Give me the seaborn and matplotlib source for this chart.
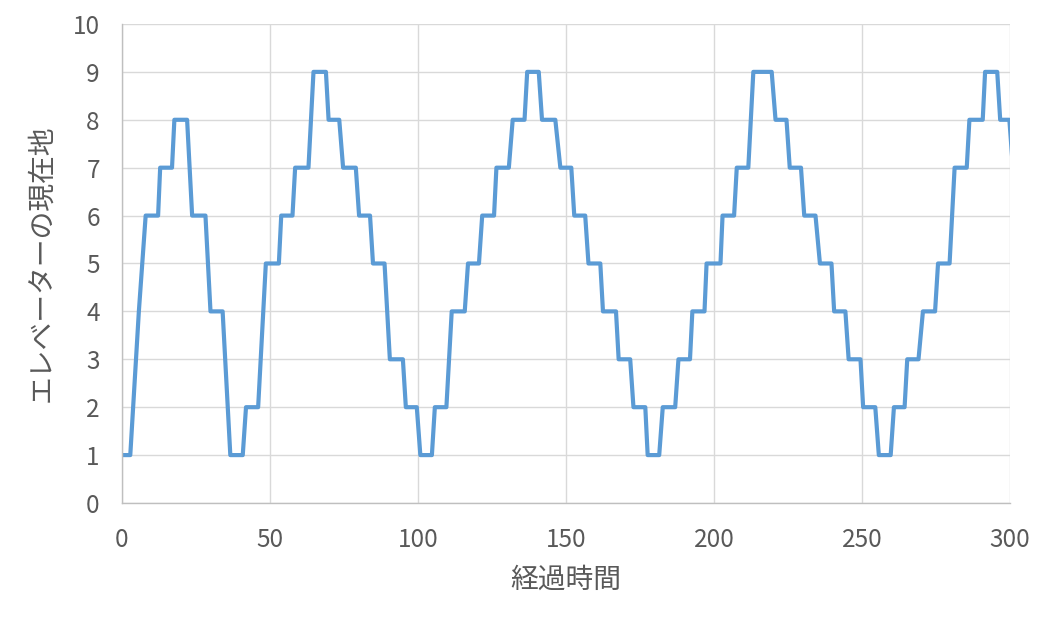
import numpy as np
import pandas as pd
import matplotlib
matplotlib.use("Agg")
import matplotlib.pyplot as plt
import seaborn as sns

# 経過時間 (頂点ごと) と エレベーターの現在地
time = [0, 2.8, 5.7, 8.0, 12.2, 12.9, 16.9, 17.7, 22.0, 23.7, 28.2, 29.9, 34.0, 36.6,
        40.8, 41.9, 46.0, 48.6, 53.0, 53.8, 57.6, 58.5, 63.0, 64.7, 68.9, 69.8, 73.4,
        74.7, 79.0, 80.1, 83.8, 84.8, 88.7, 90.5, 94.9, 95.9, 99.6, 100.8, 104.7,
        105.7, 109.6, 111.4, 115.8, 116.9, 120.6, 121.7, 125.7, 126.5, 130.7, 132.0,
        136.0, 136.9, 140.8, 141.9, 146.4, 148.1, 151.8, 152.8, 156.5, 157.6, 161.6,
        162.5, 166.9, 167.8, 171.7, 172.8, 176.8, 177.6, 181.5, 182.7, 186.9, 188.0,
        191.9, 192.7, 196.8, 197.5, 202.2, 202.9, 206.8, 207.7, 211.6, 213.3, 219.5,
        220.8, 224.5, 225.6, 229.4, 230.5, 234.3, 235.8, 239.7, 240.6, 244.4, 245.5,
        249.5, 250.4, 254.5, 255.7, 259.7, 260.8, 264.4, 265.3, 269.1, 270.6, 274.7,
        275.7, 279.6, 281.3, 285.4, 286.3, 290.8, 291.6, 295.7, 296.7, 299.8, 301.0]
floor = [1, 1, 4, 6, 6, 7, 7, 8, 8, 6, 6, 4, 4, 1,
         1, 2, 2, 5, 5, 6, 6, 7, 7, 9, 9, 8, 8,
         7, 7, 6, 6, 5, 5, 3, 3, 2, 2, 1, 1,
         2, 2, 4, 4, 5, 5, 6, 6, 7, 7, 8,
         8, 9, 9, 8, 8, 7, 7, 6, 6, 5, 5,
         4, 4, 3, 3, 2, 2, 1, 1, 2, 2, 3,
         3, 4, 4, 5, 5, 6, 6, 7, 7, 9, 9,
         8, 8, 7, 7, 6, 6, 5, 5, 4, 4, 3,
         3, 2, 2, 1, 1, 2, 2, 3, 3, 4, 4,
         5, 5, 7, 7, 8, 8, 9, 9, 8, 8, 7]

x_ticks = [0, 50, 100, 150, 200, 250, 300]
y_ticks = list(range(0, 11))

df = pd.DataFrame({"経過時間": time, "現在地": floor})

sns.set_theme(style="whitegrid")
plt.rcParams['font.family'] = ['Noto Sans CJK JP', 'DejaVu Sans']

fig = plt.figure(figsize=(10.48, 6.18), dpi=100)
ax = fig.add_axes([0.1164, 0.1861, 0.8473, 0.7751])

sns.lineplot(data=df, x="経過時間", y="現在地", sort=False, estimator=None,
             color="#5B9BD5", linewidth=3.0, ax=ax)

ax.set_xlim(0, 300)
ax.set_ylim(0, 10)
ax.set_xticks(x_ticks)
ax.set_yticks(y_ticks)

ax.grid(True, color="#D9D9D9", linewidth=1.0)
ax.set_axisbelow(True)
for side in ["top", "right"]:
    ax.spines[side].set_visible(False)
for side in ["left", "bottom"]:
    ax.spines[side].set_visible(True)
    ax.spines[side].set_color("#BFBFBF")
    ax.spines[side].set_linewidth(1.0)

ax.tick_params(axis="x", length=0, pad=17, labelsize=17.5, labelcolor="#595959")
ax.tick_params(axis="y", length=0, pad=16, labelsize=17.5, labelcolor="#595959")

ax.set_xlabel("経過時間", fontsize=20, color="#595959", labelpad=9)
ax.set_ylabel("エレベーターの現在地", fontsize=20, color="#595959", labelpad=12)

fig.savefig("out.png", dpi=100, facecolor="white")
